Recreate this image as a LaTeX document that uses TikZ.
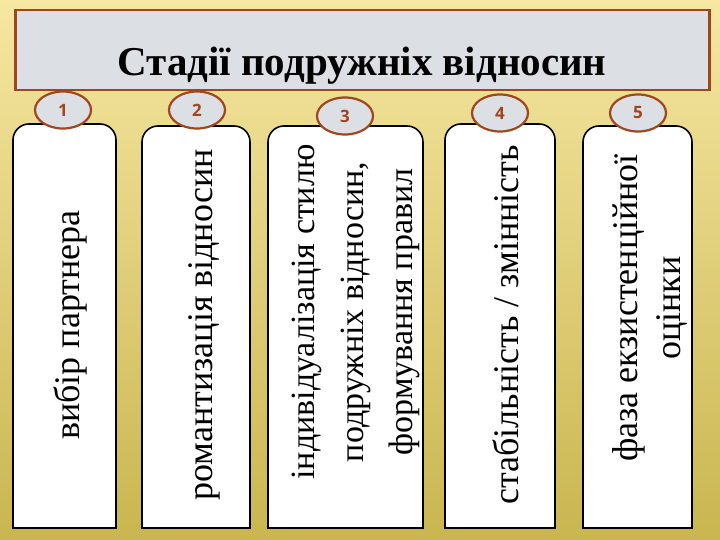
\documentclass[tikz,border=0pt]{standalone}
\usetikzlibrary{shapes.geometric}
\usepackage{fontspec}
\setmainfont{Liberation Serif}
\newfontfamily\numfont{Open Sans}
\definecolor{brd}{HTML}{A0461E}
\definecolor{hfill}{HTML}{DCDFE4}
\definecolor{bgtop}{HTML}{F6E7A2}
\definecolor{bgbot}{HTML}{C9B650}
\begin{document}
\begin{tikzpicture}[x=1pt,y=-1pt,
  card/.style={draw=black,line width=1.6pt,fill=white},
  cardtext/.style={rotate=90,align=center,font=\fontsize{36}{46}\selectfont,inner sep=0pt},
  tab/.style={ellipse,draw=brd,line width=2.2pt,fill=hfill,minimum width=56pt,minimum height=37pt,inner sep=0pt,font=\numfont\bfseries\fontsize{17}{17}\selectfont,text=brd}]
\useasboundingbox (0,0) rectangle (720,540);
\shade[top color=bgtop, bottom color=bgbot] (0,0) rectangle (720,540);
\node[draw=brd,line width=2.5pt,fill=hfill,minimum width=694pt,minimum height=80pt,anchor=north west,inner sep=0pt] (head) at (14,9) {};
\node[font=\bfseries\fontsize{41}{41}\selectfont] (title) at (362,66) {Стадії подружніх відносин};
\foreach \i/\xa/\xb/\ya in {1/13/116/124,2/142/250/126,3/268/423/126,4/445/555/124,5/583/692/126}{
  \draw[card] (\xa,528) [rounded corners=16pt] -- (\xa,\ya) -- (\xb,\ya) [sharp corners] -- (\xb,528) -- cycle;
}
\node[tab] (t1) at (63,110) {1};
\node[tab] (t2) at (197,110) {2};
\node[tab] (t3) at (345,116) {3};
\node[tab] (t4) at (500,113) {4};
\node[tab] (t5) at (638,113) {5};
\node[cardtext] (c1) at (70,325) {вибір партнера};
\node[cardtext] (c2) at (204,325) {романтизація відносин};
\node[cardtext,font=\fontsize{34}{49}\selectfont] (c3) at (356,312) {індивідуалізація стилю\\подружніх відносин,\\формування правил};
\node[cardtext] (c4) at (506,325) {стабільність / змінність};
\node[cardtext,font=\fontsize{36}{43}\selectfont] (c5) at (650,308) {фаза екзистенційної\\оцінки};
\end{tikzpicture}
\end{document}
